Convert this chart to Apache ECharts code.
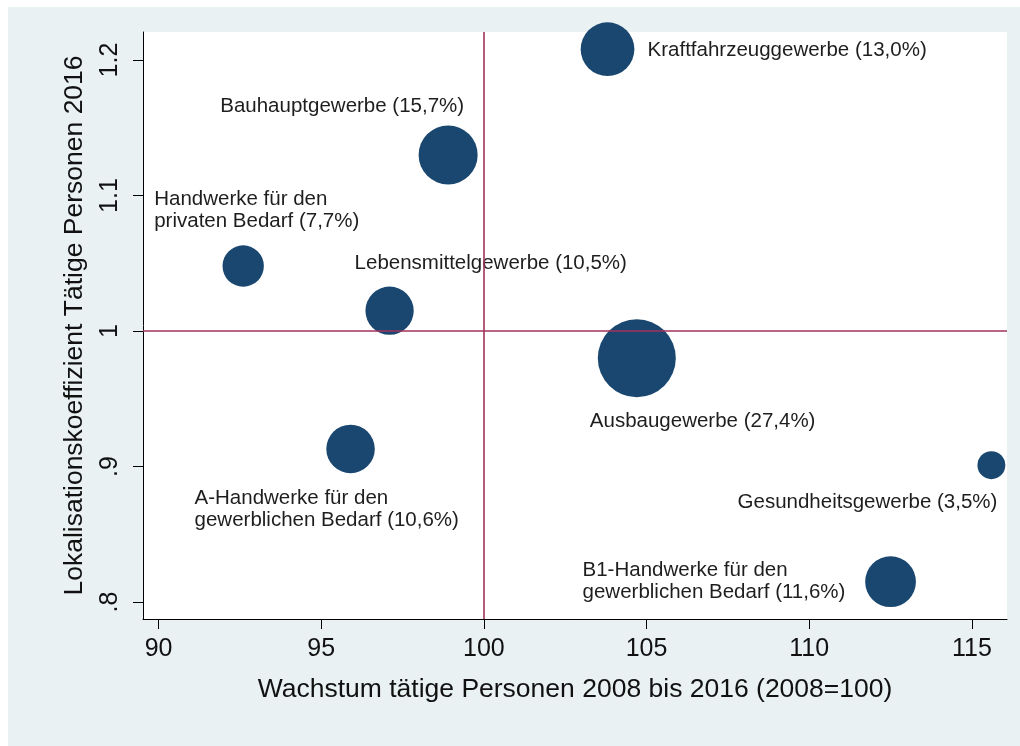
<!DOCTYPE html>
<html>
<head>
<meta charset="utf-8">
<script src="https://cdn.jsdelivr.net/npm/echarts@6/dist/echarts.min.js"></script>
<style>
  html, body { margin: 0; padding: 0; background: #fff; }
  #panel { position: absolute; left: 8px; top: 7px; width: 1012px; height: 739px; background: #e9f1f3; }
  #chart { position: absolute; left: 0; top: 0; width: 1020px; height: 746px; }
</style>
</head>
<body>
<div id="panel"></div>
<div id="chart"></div>
<script>
// Gewerbegruppen
var names = [
  'Kraftfahrzeuggewerbe',
  'Bauhauptgewerbe',
  'Handwerke für den\nprivaten Bedarf',
  'Lebensmittelgewerbe',
  'Ausbaugewerbe',
  'Gesundheitsgewerbe',
  'A-Handwerke für den\ngewerblichen Bedarf',
  'B1-Handwerke für den\ngewerblichen Bedarf'
];
// Wachstum tätige Personen 2008-2016 (2008=100)
var growth = [103.8, 98.9, 92.6, 97.1, 104.7, 115.6, 95.9, 112.5];
// Lokalisationskoeffizient 2016
var locCoef = [1.208, 1.130, 1.048, 1.015, 0.980, 0.901, 0.913, 0.815];
// Anteil an tätigen Personen (%)
var shares = [13.0, 15.7, 7.7, 10.5, 27.4, 3.5, 10.6, 11.6];

var xTicks = [90, 95, 100, 105, 110, 115];
var yTicks = [0.8, 0.9, 1, 1.1, 1.2];
var yTickLabels = ['.8', '.9', '1', '1.1', '1.2'];

// label placement (align, offset from bubble centre)
var labelPos = [
  ['left', 40, 1],
  ['right', 16, -49],
  ['left', -89, -56],
  ['left', -35, -47],
  ['left', -47, 63],
  ['right', 6, 37],
  ['left', -156, 60],
  ['left', -308, 0]
];

var font = "'Liberation Sans', Arial, sans-serif";
var myChart = echarts.init(document.getElementById('chart'), null, { renderer: 'canvas' });

var points = growth.map(function (g, i) {
  var lp = labelPos[i];
  return {
    value: [g, locCoef[i], shares[i]],
    label: {
      show: true,
      position: 'inside',
      align: lp[0],
      verticalAlign: 'middle',
      offset: [lp[1], lp[2]],
      formatter: names[i] + ' (' + shares[i].toFixed(1).replace('.', ',') + '%)'
    }
  };
});

var option = {
  backgroundColor: 'transparent',
  animation: false,
  grid: {
    left: 143, right: 13, top: 32, bottom: 127,
    show: true, backgroundColor: '#fff', borderWidth: 0
  },
  xAxis: {
    type: 'value',
    min: 89.52, max: 116.08,
    name: 'Wachstum tätige Personen 2008 bis 2016 (2008=100)',
    nameLocation: 'middle',
    nameGap: 57,
    nameTextStyle: { fontFamily: font, fontSize: 26.5, color: '#111' },
    axisLine: { show: true, onZero: false, lineStyle: { color: '#000', width: 1 } },
    axisTick: { show: true, length: 10, customValues: xTicks, lineStyle: { color: '#000' } },
    axisLabel: { customValues: xTicks, margin: 18, fontFamily: font, fontSize: 25, color: '#111' },
    splitLine: { show: false }
  },
  yAxis: {
    type: 'value',
    min: 0.7875, max: 1.2207,
    name: 'Lokalisationskoeffizient Tätige Personen 2016',
    nameLocation: 'middle',
    nameGap: 55,
    nameTextStyle: { fontFamily: font, fontSize: 26.5, color: '#111' },
    axisLine: { show: true, onZero: false, lineStyle: { color: '#000', width: 1 } },
    axisTick: { show: true, length: 10, customValues: yTicks, lineStyle: { color: '#000' } },
    axisLabel: {
      customValues: yTicks, rotate: 90, margin: 20,
      fontFamily: font, fontSize: 25, color: '#111',
      formatter: function (v) {
        for (var i = 0; i < yTicks.length; i++) {
          if (Math.abs(yTicks[i] - v) < 1e-6) return yTickLabels[i];
        }
        return '';
      }
    },
    splitLine: { show: false }
  },
  series: [
    {
      type: 'scatter',
      data: points,
      symbolSize: function (val) { return 14.9 * Math.sqrt(val[2]); },
      itemStyle: { color: '#1a476f', opacity: 1 },
      label: { fontFamily: font, fontSize: 20.5, lineHeight: 22, color: '#1e1e1e' },
      markLine: {
        silent: true,
        symbol: 'none',
        label: { show: false },
        lineStyle: { color: '#a3325c', width: 1.6, type: 'solid' },
        data: [{ xAxis: 100 }, { yAxis: 1 }]
      }
    }
  ]
};

myChart.setOption(option);
</script>
</body>
</html>
